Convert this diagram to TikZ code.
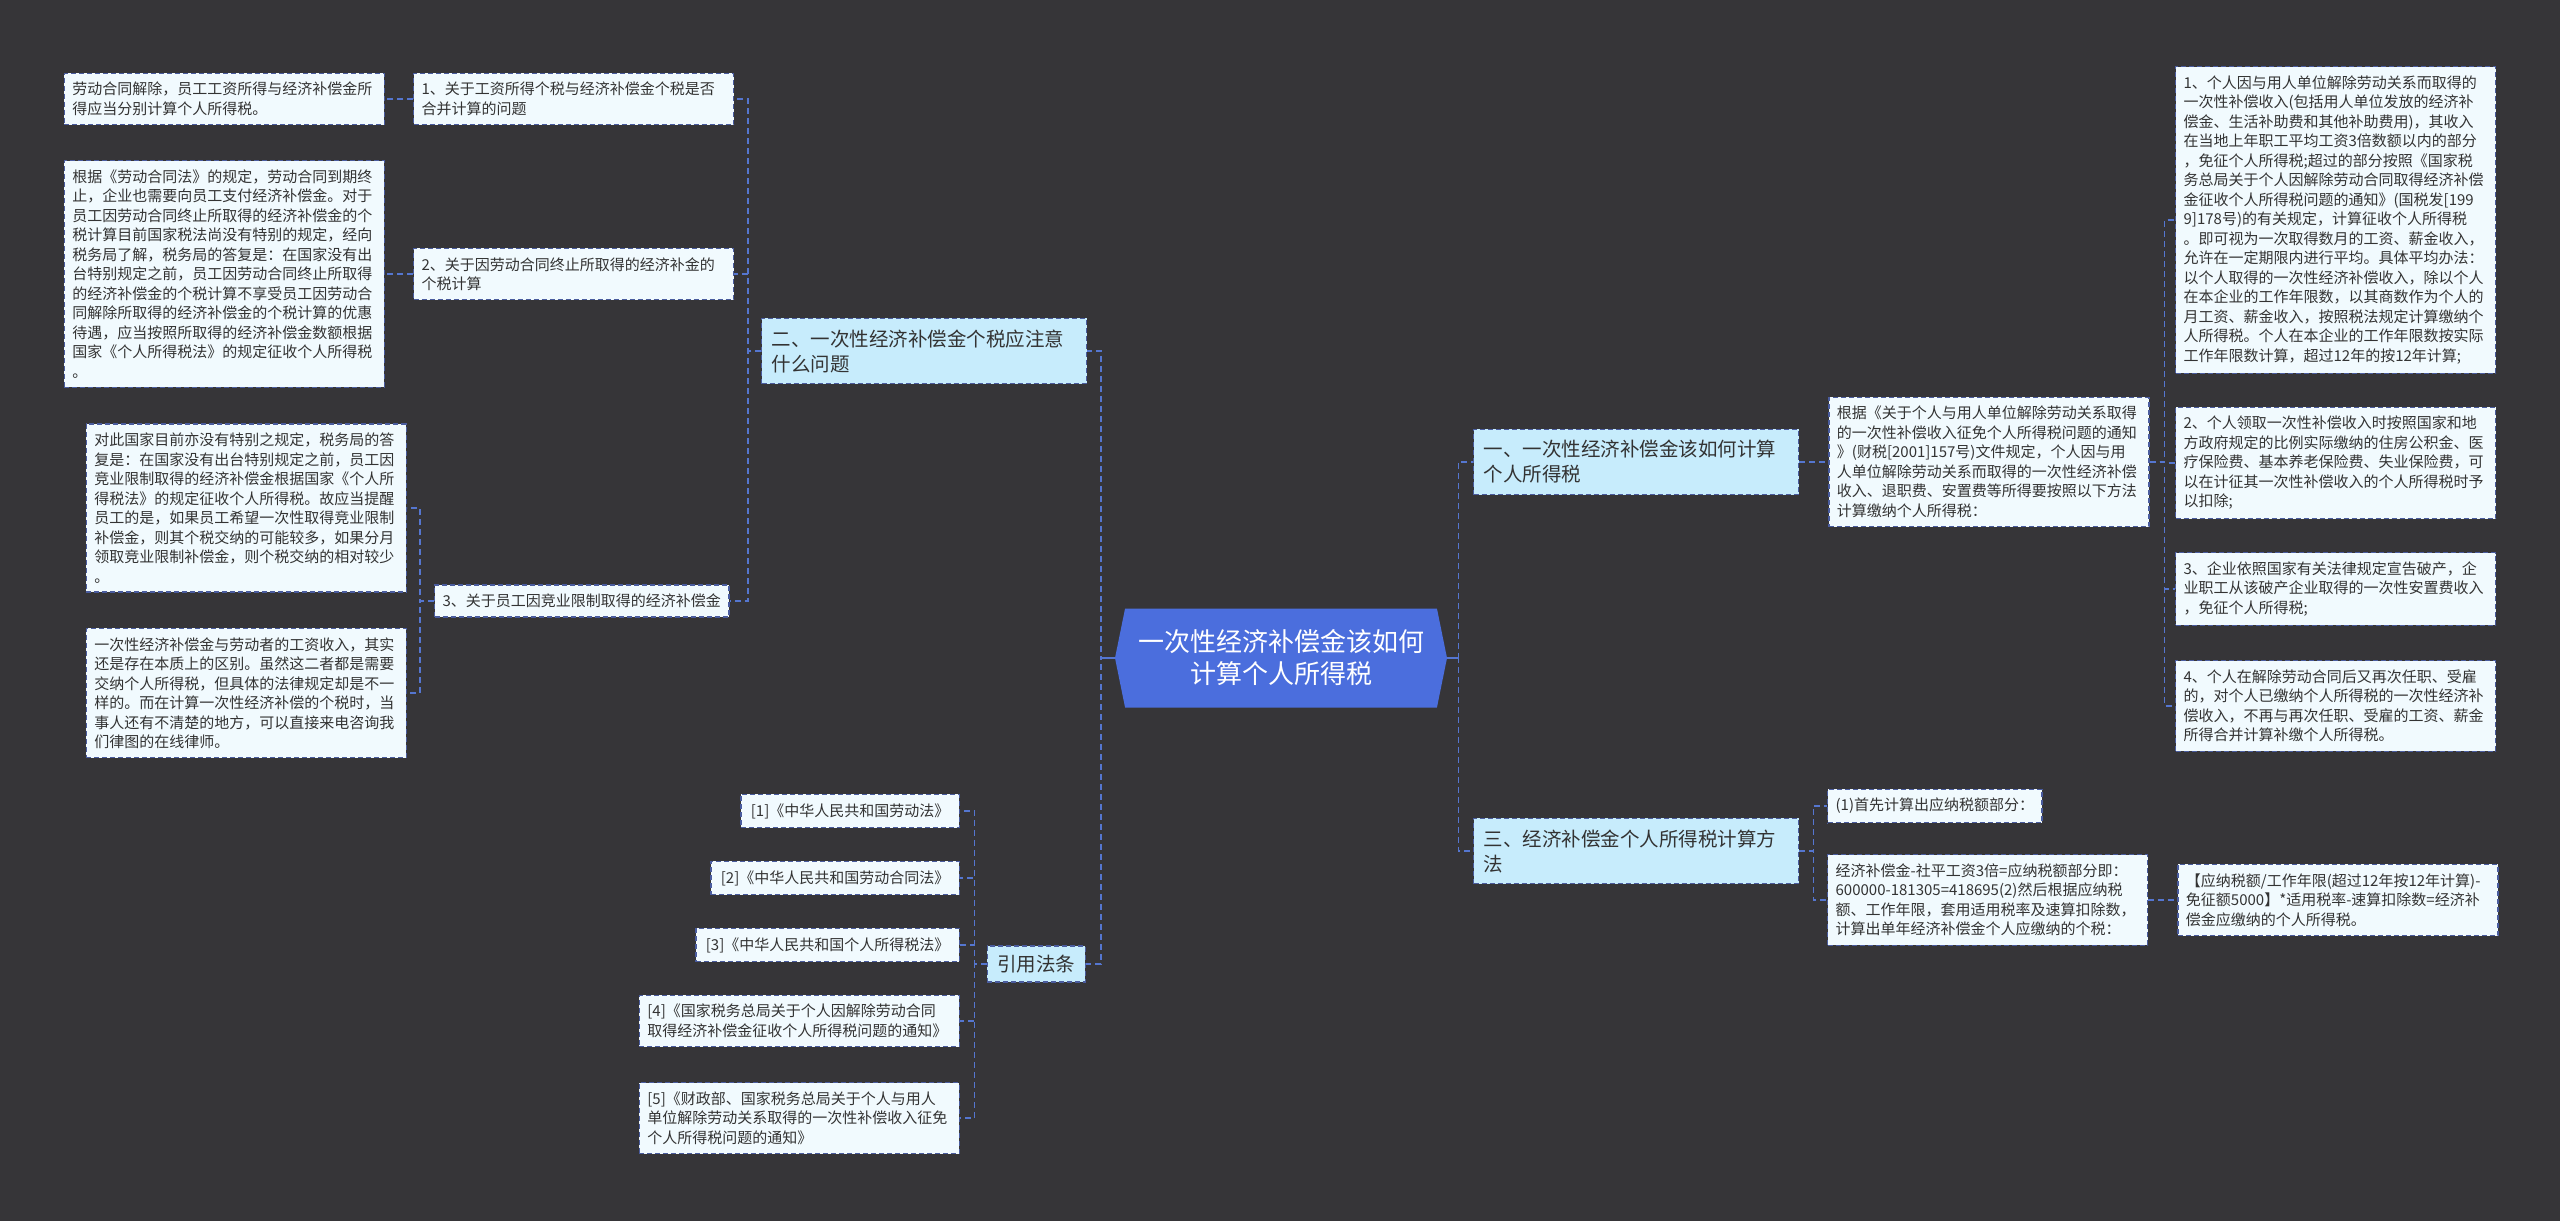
\documentclass[tikz,border=0pt]{standalone}
\usepackage{fontspec}
\setmainfont{Noto Sans CJK SC}
\usepackage{xcolor}
\usepackage{tikz}
\usetikzlibrary{positioning,shapes.symbols}
\definecolor{canvas}{HTML}{363538}
\definecolor{leaffill}{HTML}{F1FAFE}
\definecolor{topicfill}{HTML}{C7ECFC}
\definecolor{hubfill}{HTML}{4B6EDD}
\definecolor{edgeblue}{HTML}{4A5C9E}
\definecolor{linkblue}{HTML}{5576D0}
\definecolor{inkgray}{HTML}{333333}
\newcommand{\leaffont}{\fontsize{15}{19.5}\selectfont}
\newcommand{\topicfont}{\fontsize{19.5}{25}\selectfont}
\newcommand{\hubfont}{\fontsize{26}{32}\selectfont}

\begin{document}
\begin{tikzpicture}[
x=1pt, y=-1pt,
node distance=29pt,
leaf/.style={draw=edgeblue, dash pattern=on 5pt off 3pt, line width=1.3pt, fill=leaffill, text=inkgray, font=\leaffont, align=left, inner xsep=8pt, inner ysep=9pt},
note/.style={leaf, text width=304pt},
ref/.style={leaf, inner xsep=10pt},
topic/.style={leaf, fill=topicfill, font=\topicfont, text width=305pt, inner xsep=10pt, inner ysep=11pt},
hub/.style={shape=signal, signal to=west and east, signal pointer angle=157, fill=hubfill, text=white, font=\hubfont, align=center, minimum width=332pt, minimum height=99pt},
link/.style={draw=linkblue, dash pattern=on 6pt off 4pt, line width=1.4pt},
stub/.style={draw=linkblue, line width=1.6pt}
]
\useasboundingbox (0,0) rectangle (2560,1221);
\fill[canvas] (0,0) rectangle (2560,1221);

% centre
\node[hub] (hub) at (1281,658) {一次性经济补偿金该如何\\计算个人所得税};

% left: 二
\node[topic, anchor=west] (two) at (761,351) {二、一次性经济补偿金个税应注意\\什么问题};
\node[note, anchor=west] (q1) at (413,99) {1、关于工资所得个税与经济补偿金个税是否\\合并计算的问题};
\node[note, left=28pt of q1] (q1a) {劳动合同解除，员工工资所得与经济补偿金所\\得应当分别计算个人所得税。};
\node[note, anchor=west] (q2) at (413,274) {2、关于因劳动合同终止所取得的经济补金的\\个税计算};
\node[note, left=28pt of q2] (q2a) {根据《劳动合同法》的规定，劳动合同到期终\\止，企业也需要向员工支付经济补偿金。对于\\员工因劳动合同终止所取得的经济补偿金的个\\税计算目前国家税法尚没有特别的规定，经向\\税务局了解，税务局的答复是：在国家没有出\\台特别规定之前，员工因劳动合同终止所取得\\的经济补偿金的个税计算不享受员工因劳动合\\同解除所取得的经济补偿金的个税计算的优惠\\待遇，应当按照所取得的经济补偿金数额根据\\国家《个人所得税法》的规定征收个人所得税\\。};
\node[leaf, anchor=west] (q3) at (434,601) {3、关于员工因竞业限制取得的经济补偿金};
\node[note, anchor=east] (q3a) at (407,508) {对此国家目前亦没有特别之规定，税务局的答\\复是：在国家没有出台特别规定之前，员工因\\竞业限制取得的经济补偿金根据国家《个人所\\得税法》的规定征收个人所得税。故应当提醒\\员工的是，如果员工希望一次性取得竞业限制\\补偿金，则其个税交纳的可能较多，如果分月\\领取竞业限制补偿金，则个税交纳的相对较少\\。};
\node[note, anchor=east] (q3b) at (407,693) {一次性经济补偿金与劳动者的工资收入，其实\\还是存在本质上的区别。虽然这二者都是需要\\交纳个人所得税，但具体的法律规定却是不一\\样的。而在计算一次性经济补偿的个税时，当\\事人还有不清楚的地方，可以直接来电咨询我\\们律图的在线律师。};

% left: 引用法条
\node[topic, text width=, inner ysep=9pt, anchor=east] (cite) at (1086,964) {引用法条};
\node[ref, anchor=east] (law1) at (960,811) {[1]《中华人民共和国劳动法》};
\node[ref, anchor=east] (law2) at (960,878) {[2]《中华人民共和国劳动合同法》};
\node[ref, anchor=east] (law3) at (960,945) {[3]《中华人民共和国个人所得税法》};
\node[note, anchor=east] (law4) at (960,1021) {[4]《国家税务总局关于个人因解除劳动合同\\取得经济补偿金征收个人所得税问题的通知》};
\node[note, anchor=east] (law5) at (960,1118) {[5]《财政部、国家税务总局关于个人与用人\\单位解除劳动关系取得的一次性补偿收入征免\\个人所得税问题的通知》};

% right: 一
\node[topic, anchor=west] (one) at (1473,462) {一、一次性经济补偿金该如何计算\\个人所得税};
\node[note, right=of one] (basis) {根据《关于个人与用人单位解除劳动关系取得\\的一次性补偿收入征免个人所得税问题的通知\\》(财税[2001]157号)文件规定，个人因与用\\人单位解除劳动关系而取得的一次性经济补偿\\收入、退职费、安置费等所得要按照以下方法\\计算缴纳个人所得税：};
\node[note, anchor=west] (rule1) at (2175,220) {1、个人因与用人单位解除劳动关系而取得的\\一次性补偿收入(包括用人单位发放的经济补\\偿金、生活补助费和其他补助费用)，其收入\\在当地上年职工平均工资3倍数额以内的部分\\，免征个人所得税;超过的部分按照《国家税\\务总局关于个人因解除劳动合同取得经济补偿\\金征收个人所得税问题的通知》(国税发[199\\9]178号)的有关规定，计算征收个人所得税\\。即可视为一次取得数月的工资、薪金收入，\\允许在一定期限内进行平均。具体平均办法：\\以个人取得的一次性经济补偿收入，除以个人\\在本企业的工作年限数，以其商数作为个人的\\月工资、薪金收入，按照税法规定计算缴纳个\\人所得税。个人在本企业的工作年限数按实际\\工作年限数计算，超过12年的按12年计算;};
\node[note, anchor=west] (rule2) at (2175,463) {2、个人领取一次性补偿收入时按照国家和地\\方政府规定的比例实际缴纳的住房公积金、医\\疗保险费、基本养老保险费、失业保险费，可\\以在计征其一次性补偿收入的个人所得税时予\\以扣除;};
\node[note, anchor=west] (rule3) at (2175,589) {3、企业依照国家有关法律规定宣告破产，企\\业职工从该破产企业取得的一次性安置费收入\\，免征个人所得税;};
\node[note, anchor=west] (rule4) at (2175,706) {4、个人在解除劳动合同后又再次任职、受雇\\的，对个人已缴纳个人所得税的一次性经济补\\偿收入，不再与再次任职、受雇的工资、薪金\\所得合并计算补缴个人所得税。};

% right: 三
\node[topic, anchor=west] (three) at (1473,851) {三、经济补偿金个人所得税计算方\\法};
\node[leaf, anchor=west] (step1) at (1827,806) {(1)首先计算出应纳税额部分：};
\node[note, anchor=west] (step2) at (1827,900) {经济补偿金-社平工资3倍=应纳税额部分即：\\600000-181305=418695(2)然后根据应纳税\\额、工作年限，套用适用税率及速算扣除数，\\计算出单年经济补偿金个人应缴纳的个税：};
\node[note, right=of step2] (formula) {【应纳税额/工作年限(超过12年按12年计算)-\\免征额5000】*适用税率-速算扣除数=经济补\\偿金应缴纳的个人所得税。};

% connectors
\draw[link] (hub.east) -- ++(11,0) |- (one.west);
\draw[link] (hub.east) -- ++(11,0) |- (three.west);
\draw[stub] (hub.east) -- ++(11,0);
\draw[link] (hub.west) -- ++(-14,0) |- (two.east);
\draw[link] (hub.west) -- ++(-14,0) |- (cite.east);
\draw[stub] (hub.west) -- ++(-14,0);
\draw[link] (two.west) -- ++(-13,0) |- (q1.east);
\draw[link] (two.west) -- ++(-13,0) |- (q2.east);
\draw[link] (two.west) -- ++(-13,0) |- (q3.east);
\draw[link] (q1.west) -- (q1a.east);
\draw[link] (q2.west) -- (q2a.east);
\draw[link] (q3.west) -- ++(-14,0) |- (q3a.east);
\draw[link] (q3.west) -- ++(-14,0) |- (q3b.east);
\draw[link] (cite.west) -- ++(-12,0) |- (law1.east);
\draw[link] (cite.west) -- ++(-12,0) |- (law2.east);
\draw[link] (cite.west) -- ++(-12,0) |- (law3.east);
\draw[link] (cite.west) -- ++(-12,0) |- (law4.east);
\draw[link] (cite.west) -- ++(-12,0) |- (law5.east);
\draw[link] (one.east) -- (basis.west);
\draw[link] (basis.east) -- ++(15,0) |- (rule1.west);
\draw[link] (basis.east) -- ++(15,0) |- (rule2.west);
\draw[link] (basis.east) -- ++(15,0) |- (rule3.west);
\draw[link] (basis.east) -- ++(15,0) |- (rule4.west);
\draw[link] (three.east) -- ++(14,0) |- (step1.west);
\draw[link] (three.east) -- ++(14,0) |- (step2.west);
\draw[link] (step2.east) -- (formula.west);
\end{tikzpicture}
\end{document}
